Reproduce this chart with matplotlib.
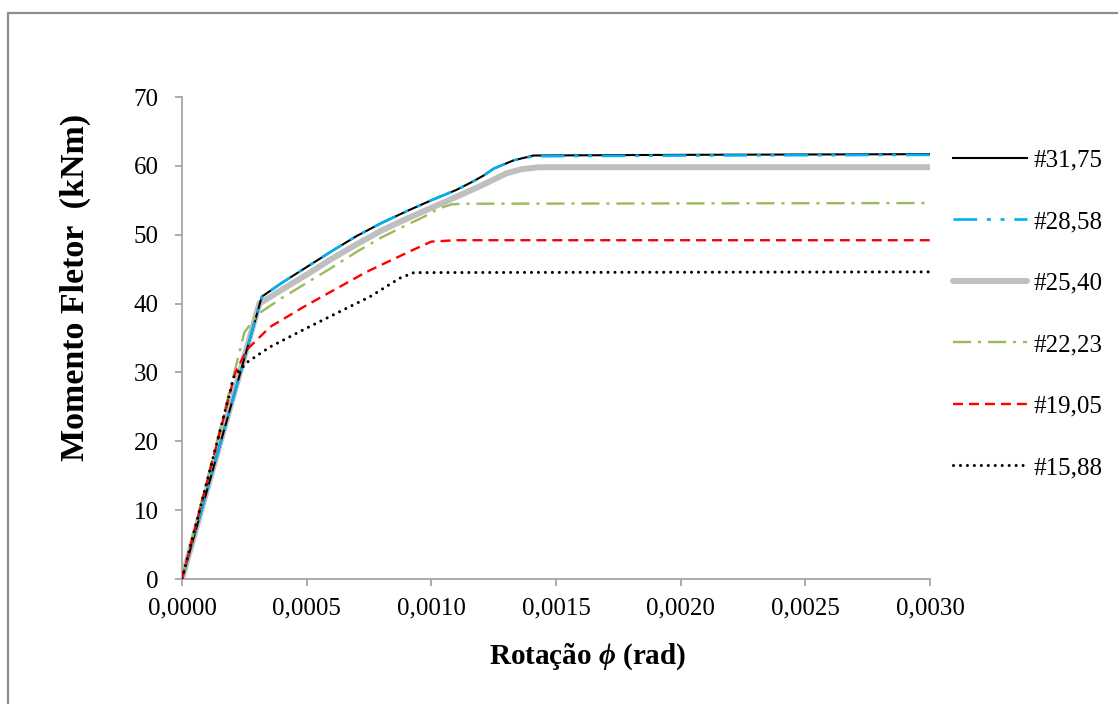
import matplotlib
matplotlib.use("Agg")
import matplotlib.pyplot as plt
from matplotlib.lines import Line2D
from matplotlib.ticker import FuncFormatter

plt.rcParams["font.family"] = ["Liberation Serif", "DejaVu Serif"]
plt.rcParams["mathtext.fontset"] = "custom"
plt.rcParams["mathtext.it"] = "Liberation Serif:italic:bold"
plt.rcParams["lines.scale_dashes"] = False

# Moment-rotation curves (rotation in rad, moment in kNm) per bar diameter
phi_3175 = [0, 0.00032, 0.0004, 0.0005, 0.0006, 0.0007, 0.0008, 0.0009, 0.0010,
            0.0011, 0.00116, 0.00121, 0.00125, 0.00133, 0.00141, 0.0020, 0.0030]
m_3175 = [0, 41.0, 43.0, 45.3, 47.6, 49.8, 51.7, 53.4, 55.0,
          56.5, 57.6, 58.6, 59.6, 60.8, 61.5, 61.6, 61.7]

phi_2858 = [0, 0.00032, 0.0004, 0.0005, 0.0006, 0.0007, 0.0008, 0.0009, 0.0010,
            0.0011, 0.00116, 0.00121, 0.00125, 0.00133, 0.00141, 0.0020, 0.0030]
m_2858 = [0, 41.0, 43.0, 45.3, 47.6, 49.8, 51.7, 53.4, 55.0,
          56.5, 57.6, 58.6, 59.6, 60.8, 61.4, 61.5, 61.6]

phi_2540 = [0, 0.00031, 0.0004, 0.0005, 0.0006, 0.0007, 0.0008, 0.0009, 0.0010,
            0.0011, 0.00118, 0.00125, 0.0013, 0.00136, 0.00143, 0.0030]
m_2540 = [0, 40.0, 42.0, 44.2, 46.5, 48.6, 50.6, 52.3, 53.9,
          55.5, 56.8, 58.0, 58.9, 59.5, 59.8, 59.8]

phi_2223 = [0, 0.000233, 0.00025, 0.00027, 0.00031, 0.0004, 0.0005, 0.0006,
            0.0007, 0.0008, 0.0009, 0.00097, 0.00103, 0.00108, 0.00112, 0.0030]
m_2223 = [0, 33.3, 35.8, 36.8, 38.6, 40.8, 43.0, 45.2,
          47.5, 49.6, 51.4, 52.6, 53.8, 54.4, 54.5, 54.6]

phi_1905 = [0, 0.000213, 0.00026, 0.000353, 0.000487, 0.00074, 0.000927,
            0.0010, 0.0011, 0.0030]
m_1905 = [0, 29.9, 33.3, 36.6, 39.5, 44.6, 47.8, 49.0, 49.2, 49.2]

phi_1588 = [0, 0.000209, 0.000266, 0.000353, 0.000487, 0.00062, 0.000754,
            0.000874, 0.00093, 0.0030]
m_1588 = [0, 29.5, 31.6, 33.7, 36.2, 38.6, 41.0, 43.7, 44.5, 44.6]

labels = ["#31,75", "#28,58", "#25,40", "#22,23", "#19,05", "#15,88"]

x_ticks = [0, 0.0005, 0.0010, 0.0015, 0.0020, 0.0025, 0.0030]
y_ticks = [0, 10, 20, 30, 40, 50, 60, 70]

W, H = 1118, 704
fig = plt.figure(figsize=(W / 100, H / 100), dpi=100)
ax = fig.add_axes([182 / W, 1 - 579 / H, (930 - 182) / W, (579 - 97) / H])

ax.plot(phi_3175, m_3175, color="black", lw=1.5, label=labels[0], zorder=3)
ax.plot(phi_2858, m_2858, color="#00b0f0", lw=1.9, label=labels[1],
        dashes=(17, 7, 2.9, 7, 2.9, 7), zorder=4)
ax.plot(phi_2540, m_2540, color="#bfbfbf", lw=4.3, label=labels[2],
        solid_capstyle="round", zorder=2)
ax.plot(phi_2223, m_2223, color="#9bbb59", lw=1.7, label=labels[3],
        dashes=(13, 5, 2.2, 5), zorder=5)
ax.plot(phi_1905, m_1905, color="#ff0000", lw=1.7, label=labels[4],
        dashes=(7.2, 4.3), zorder=6)
ax.plot(phi_1588, m_1588, color="black", lw=2.2, label=labels[5],
        dashes=(0.01, 5), dash_capstyle="round", zorder=7)

ax.set_xlim(0, 0.003)
ax.set_ylim(0, 70)
ax.set_xticks(x_ticks)
ax.set_yticks(y_ticks)
ax.xaxis.set_major_formatter(FuncFormatter(lambda v, p: f"{v:.4f}".replace(".", ",")))
ax.yaxis.set_major_formatter(FuncFormatter(lambda v, p: f"{v:.0f}"))

for side in ("top", "right"):
    ax.spines[side].set_visible(False)
for side in ("left", "bottom"):
    ax.spines[side].set_color("#a6a6a6")
    ax.spines[side].set_linewidth(1.3)
ax.tick_params(axis="both", direction="out", length=5, width=1.3,
               color="#a6a6a6", labelsize=18, labelcolor="black")
ax.tick_params(axis="y", pad=12)
ax.tick_params(axis="x", pad=8)

fig.text(588 / W, 1 - 657 / H, r"Rotação $\mathit{\phi}$ (rad)", fontsize=21,
         fontweight="bold", ha="center", va="center")
fig.text(75 / W, 1 - 287 / H, "Momento Fletor  (kNm)", fontsize=24.5,
         fontweight="bold", ha="center", va="center", rotation=90)

handles, lbls = ax.get_legend_handles_labels()
fig.legend(handles, lbls, loc="upper left",
           bbox_to_anchor=(953 / W, 1 - 149 / H), frameon=False,
           fontsize=18, handlelength=2.95, handletextpad=0.25,
           labelspacing=1.56, borderpad=0, borderaxespad=0)

# outer frame of the chart area
fig.add_artist(Line2D([8 / W, 8 / W, 1.0], [0.0, 1 - 13 / H, 1 - 13 / H],
                      transform=fig.transFigure, color="#8c8c8c", lw=1.6))

fig.savefig("out.png", dpi=100)
